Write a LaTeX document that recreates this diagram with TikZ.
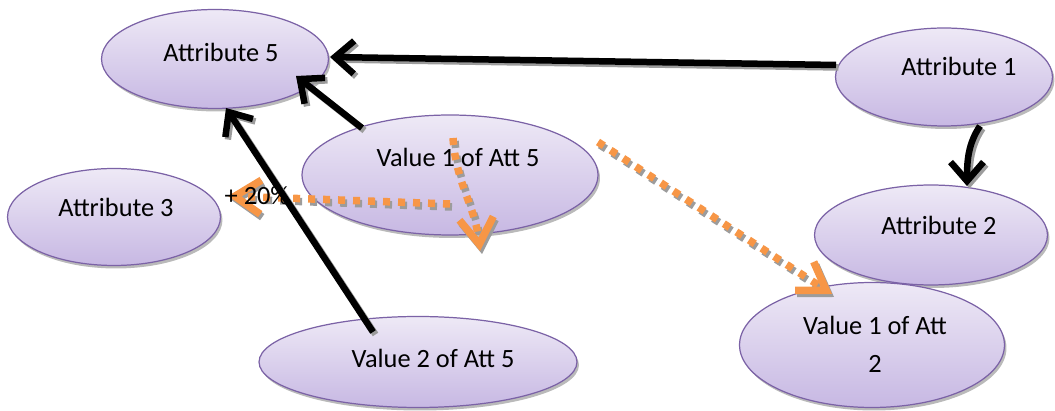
\documentclass[tikz,border=0pt]{standalone}
\usepackage{fontspec}
\setmainfont{Carlito}
\usetikzlibrary{shapes.geometric,arrows.meta,shadows}

\definecolor{lilarand}{HTML}{7B62A6}
\definecolor{lilaoben}{HTML}{EEE9F6}
\definecolor{lilaunten}{HTML}{C7B8E3}
\definecolor{pfeilorange}{HTML}{F79646}
\definecolor{schatten}{HTML}{9C9C9C}

\tikzset{
    merkmal/.style={ellipse, draw=lilarand, line width=0.7pt,
        top color=lilaoben, bottom color=lilaunten,
        drop shadow={shadow xshift=0.04cm, shadow yshift=-0.06cm, fill=schatten, opacity=0.7}},
    beschriftung/.style={font=\fontsize{15}{21.5}\selectfont, inner sep=0pt, align=center},
    spitze/.style={-{Straight Barb[length=0.38cm,width=0.66cm]}},
    orangespitze/.style={-{Straight Barb[length=0.52cm,width=0.68cm]}},
    relation/.style={line width=0.13cm, spitze,
        preaction={draw=schatten, line width=0.13cm, spitze,
            transform canvas={shift={(0.05cm,-0.05cm)}}}},
    folge/.style={draw=pfeilorange, line width=0.15cm, dash pattern=on 0.14cm off 0.16cm, orangespitze,
        preaction={draw=schatten, line width=0.15cm, dash pattern=on 0.14cm off 0.16cm, orangespitze,
            transform canvas={shift={(0.04cm,-0.06cm)}}}}
}

\begin{document}
\begin{tikzpicture}[x=0.02cm, y=-0.02cm]
        \useasboundingbox (0,0) rectangle (1055,411);

        % Attribute
        \node[merkmal, minimum width=4.54cm, minimum height=1.98cm] (att5) at (215,59) {};
        \node[merkmal, minimum width=4.34cm, minimum height=1.96cm] (att1) at (944,77) {};
        \node[merkmal, minimum width=4.66cm, minimum height=2.0cm] (att2) at (931,235) {};
        \node[merkmal, minimum width=4.26cm, minimum height=1.94cm] (att3) at (114,217) {};

        % Werte
        \node[merkmal, minimum width=5.92cm, minimum height=2.4cm] (wert15) at (450,175) {};
        \node[merkmal, minimum width=6.36cm, minimum height=1.82cm] (wert25) at (418,362) {};
        \node[merkmal, minimum width=5.3cm, minimum height=2.5cm] (wert12) at (872,345) {};

        % Texte
        \node[beschriftung] (att5text) at ([shift={(6,-7)}]att5.center) {Attribute 5};
        \node[beschriftung] (att1text) at ([shift={(15,-11)}]att1.center) {Attribute 1};
        \node[beschriftung] (att2text) at ([shift={(8,-10)}]att2.center) {Attribute 2};
        \node[beschriftung] (att3text) at ([shift={(2,-10)}]att3.center) {Attribute 3};
        \node[beschriftung] (wert15text) at ([shift={(8,-18)}]wert15.center) {Value 1 of Att 5};
        \node[beschriftung] (wert25text) at ([shift={(15,-4)}]wert25.center) {Value 2 of Att 5};
        \node[beschriftung] (wert12text) at ([shift={(3,-1)}]wert12.center) {Value 1 of Att\\2};

        % Folgen
        \draw[folge] ([shift={(148,-33)}]wert15.center) -- ([shift={(-40,-51)}]wert12.center);
        \draw[folge] ([shift={(3,-37)}]wert15.center) .. controls +(3,45) and +(-5,-45) .. ([shift={(30,76)}]wert15.center);
        \draw[folge] ([shift={(0,29)}]wert15.center) -- ([shift={(114,-21)}]att3.center);
        \node[beschriftung] (zuwachs) at (257,196) {+ 20\%};

        % Relationen
        \draw[relation] ([shift={(-108,-12)}]att1.center) -- ([shift={(115,-2)}]att5.center);
        \draw[relation] ([shift={(-88,-47)}]wert15.center) -- ([shift={(81,17)}]att5.center);
        \draw[relation] ([shift={(-45,-30)}]wert25.center) -- ([shift={(11,49)}]att5.center);
        \draw[relation] ([shift={(36,49)}]att1.center) .. controls +(-12,18) and +(0,-25) .. ([shift={(36,-49)}]att2.center);
    \end{tikzpicture}
\end{document}
